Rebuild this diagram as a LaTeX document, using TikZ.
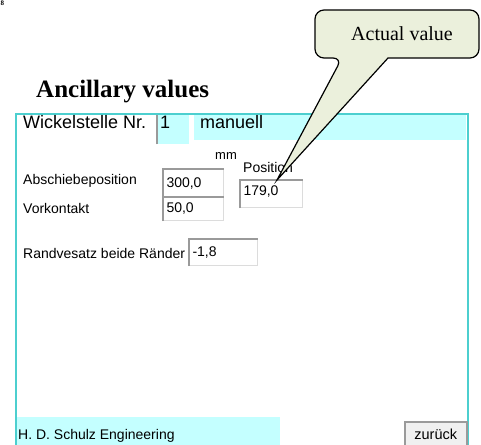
\documentclass[tikz,border=0pt]{standalone}
\usepackage{fontspec}
\setmainfont{Liberation Serif}
\newfontfamily\uifont{Liberation Sans}
\definecolor{cyanfill}{HTML}{C4FFFF}
\definecolor{framec}{HTML}{4CCFCF}
\definecolor{calloutfill}{HTML}{EBF0DC}
\definecolor{edgedark}{HTML}{9A9A9A}
\definecolor{edgelight}{HTML}{DCDCDC}
\definecolor{btnfill}{HTML}{F0F0F0}
\tikzset{
  ui/.style={font=\uifont\fontsize{14}{16}\selectfont, inner sep=0pt},
  uibig/.style={font=\uifont\fontsize{18}{20}\selectfont, inner sep=0pt},
  bg/.style={fill=cyanfill, anchor=north west, inner sep=0pt},
  field/.style={ui, draw=edgelight, fill=white, line width=1pt, anchor=north west, inner xsep=3pt, align=left},
  sunk/.style={draw=edgedark, line width=1.2pt},
}
\begin{document}
\begin{tikzpicture}[x=1pt,y=-1pt]
\useasboundingbox (0,0) rectangle (481,444);
\begin{scope}
\clip (0,0) rectangle (481,444);
% small fragment top left
\node[font=\fontsize{7}{8}\selectfont\bfseries, anchor=north west, inner sep=0pt] (frag) at (0.5,0.5) {8};

\node[font=\fontsize{25}{28}\selectfont\bfseries, anchor=base west, inner sep=0pt] (title) at (36,97) {Ancillary values};

% title bar
\node[bg, minimum width=272pt, minimum height=27pt] (bar) at (194,113) {};
\node[bg, minimum width=32pt, minimum height=31pt] (nrbox) at (157,113) {};
\draw[edgedark, line width=1.2pt] (nrbox.south west) -- (nrbox.north west);
% bottom bar
\node[bg, minimum width=265pt, minimum height=30pt] (foot) at (15,417) {};
% window frame
\node[draw=framec, line width=2pt, minimum width=452pt, minimum height=340pt, anchor=north west, inner sep=0pt] (win) at (15,113) {};

\node[uibig, anchor=base west] (wst) at (23,128) {Wickelstelle Nr.};
\node[uibig, anchor=base west] (nr) at (160,128) {1};
\node[uibig, anchor=base west] (man) at (200,128) {manuell};

\node[ui, font=\uifont\fontsize{13}{15}\selectfont, anchor=west] (mm) at (215,156) {mm};
\node[ui, anchor=west] (pos) at (243,167) {Position};
\node[ui, anchor=west] (absch) at (23,181) {Abschiebeposition};
\node[ui, anchor=west] (vork) at (23,208) {Vorkontakt};
\node[ui, anchor=west] (rand) at (23,253) {Randvesatz beide Ränder};

\node[field, minimum width=60pt, minimum height=28pt, text width=54pt] (f1) at (163,169) {300,0};
\node[field, minimum width=60pt, minimum height=23pt, text width=54pt] (f2) at (163,197) {50,0};
\node[field, minimum width=62pt, minimum height=27pt, text width=56pt, text depth=6pt] (f3) at (240,180) {179,0};
\node[field, minimum width=68pt, minimum height=26pt, text width=62pt] (f4) at (189,239) {-1,8};
\foreach \f in {f1,f2,f3,f4}{
  \draw[sunk] (\f.south west) -- (\f.north west) -- (\f.north east);
}

\node[ui, anchor=west] (hds) at (18,436) {H. D. Schulz Engineering};
\node[ui, font=\uifont\fontsize{14.5}{16}\selectfont, draw=edgedark, line width=1.5pt, fill=btnfill, anchor=north west, minimum width=62pt, minimum height=26pt] (back) at (404,421) {zurück};

% callout
\coordinate (tip) at (277,180);
\draw[fill=calloutfill, line width=1.2pt, line join=miter]
  (400,58) [rounded corners=9pt] -- (479,58) -- (479,10) -- (315,10) -- (315,58) -- (342,58)
  [sharp corners] -- (tip) -- (388,58) -- cycle;
\node[font=\fontsize{20}{22}\selectfont, inner sep=0pt] (ctext) at (402,34) {Actual value};
\end{scope}
\end{tikzpicture}
\end{document}
